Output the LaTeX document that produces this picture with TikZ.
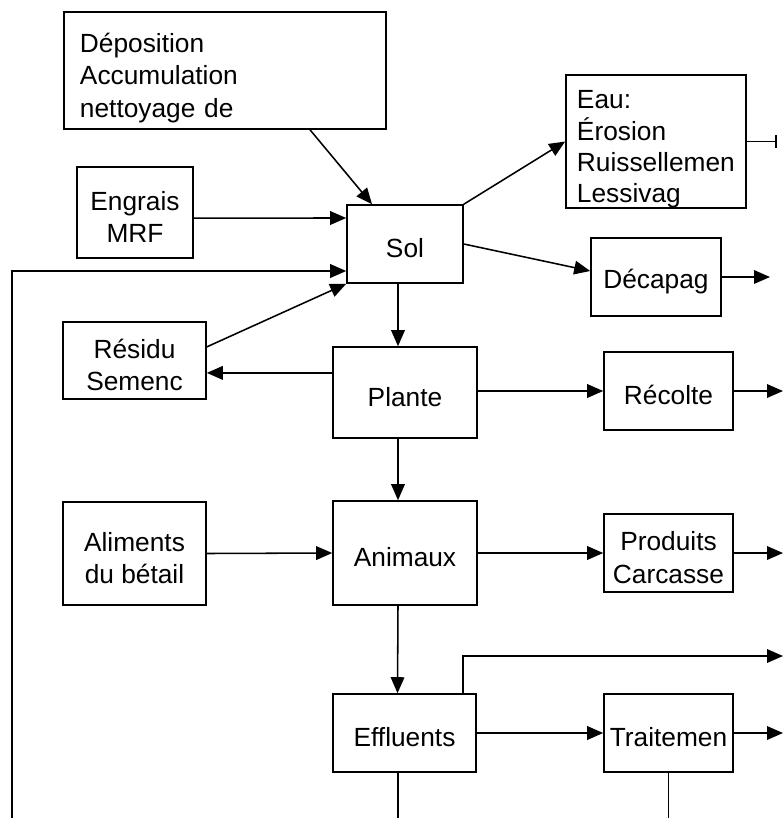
\documentclass[tikz,border=0pt]{standalone}
\usepackage{fontspec}
\setmainfont{Liberation Sans}
\usepackage{tikz}
\usetikzlibrary{arrows.meta, calc}

\newcommand{\haut}{\rule{0pt}{0.7cm}}
\newcommand{\plushaut}{\rule{0pt}{0.85cm}}

\tikzset{
  boite/.style={draw, line width=1.1pt, inner sep=2pt, align=center,
    font=\fontsize{18.7pt}{23pt}\selectfont},
  fleche/.style={line width=1.1pt, -{Triangle[length=0.4cm, width=0.34cm]}},
  trait/.style={line width=1.1pt}
}

\begin{document}
\begin{tikzpicture}[x=0.025cm, y=-0.025cm]
\useasboundingbox (0,0) rectangle (783,818);

\node[boite, text width=7.25cm, align=left, inner xsep=0.4cm, inner ysep=0pt, minimum height=2.925cm] (depot) at (225,70.5) {\plushaut Déposition\\Accumulation\\nettoyage de};
\node[boite, minimum width=2.9cm, minimum height=2.275cm] (engrais) at (135,212.5) {\haut Engrais\\MRF};
\node[boite, minimum width=2.9cm, minimum height=1.95cm] (sol) at (405,244) {\haut Sol};
\node[boite, text width=3.95cm, align=left, inner xsep=0.275cm, inner ysep=0pt, minimum height=3.225cm,
  font=\fontsize{18.7pt}{22.2pt}\selectfont] (eau) at (656,141.5) {\plushaut Eau:\\Érosion\\Ruissellemen\\Lessivag};
\node[boite, minimum width=3.25cm, minimum height=1.95cm] (decap) at (656,277) {\haut Décapag};
\node[boite, minimum width=3.575cm, minimum height=1.925cm] (residu) at (134.5,360.5) {\haut Résidu\\Semenc};
\node[boite, minimum width=3.6cm, minimum height=2.275cm] (plante) at (405,392.5) {\haut Plante};
\node[boite, minimum width=3.225cm, minimum height=1.95cm] (recolte) at (668.5,391) {\haut Récolte};
\node[boite, minimum width=3.575cm, minimum height=2.575cm] (aliments) at (134.5,553.5) {\haut Aliments\\du bétail};
\node[boite, minimum width=3.6cm, minimum height=2.6cm] (animaux) at (405,553) {\haut Animaux};
\node[boite, minimum width=3.225cm, minimum height=1.95cm] (produits) at (668.5,553) {\haut Produits\\Carcasse};
\node[boite, minimum width=3.575cm, minimum height=1.95cm] (effluents) at (404.5,733) {\haut Effluents};
\node[boite, minimum width=3.225cm, minimum height=1.95cm] (traitement) at (668.5,733) {\haut Traitemen};

% sorties vers le bord
\coordinate (bas) at (12,818);
\coordinate (sEau) at (777,141.5);
\coordinate (sDecap) at (770,277);
\coordinate (sRec) at (783,391);
\coordinate (sProd) at (783,553);
\coordinate (sEff) at (783,656);
\coordinate (sTrait) at (783,733);
\coordinate (bEff) at (398,818);
\coordinate (bTrait) at (668.5,818);

\draw[fleche] ([xshift=2.125cm]depot.south) -- ([xshift=-0.825cm]sol.north);
\draw[fleche] ([yshift=-0.14cm]engrais.east) -- ([yshift=0.65cm]sol.west);
\draw[fleche] (bas) |- ([yshift=-0.675cm]sol.west);
\draw[fleche] ([yshift=0.34cm]residu.east) -- (sol.south west);
\draw[fleche] (sol.north east) -- (eau.west);
\draw[fleche] (sol.east) -- ([yshift=0.15cm]decap.west);
\draw[trait, -{Bar[width=0.32cm, line width=1.4pt]}] (eau.east) -- (sEau);
\draw[fleche] (decap.east) -- (sDecap);

\draw[fleche] ([xshift=-0.175cm]sol.south) -- ([xshift=-0.175cm]plante.north);
\draw[fleche] ([yshift=0.49cm]plante.west) -- ([yshift=0.49cm]plante.west -| residu.east);
\draw[fleche] (recolte.west -| plante.east) -- (recolte.west);
\draw[fleche] (recolte.east) -- (sRec);

\draw[fleche] ([xshift=-0.175cm]plante.south) -- ([xshift=-0.175cm]animaux.north);
\draw[fleche] (aliments.east) -- (animaux.west);
\draw[fleche] (animaux.east) -- (produits.west);
\draw[fleche] (produits.east) -- (sProd);

\draw[fleche] ([xshift=-0.175cm]animaux.south) -- ([xshift=-0.175cm]effluents.north);
\draw[fleche] ([xshift=1.46cm]effluents.north) |- (sEff);
\draw[fleche] (effluents.east) -- (traitement.west);
\draw[fleche] (traitement.east) -- (sTrait);
\draw[trait] (bEff |- effluents.south) -- (bEff);
\draw[trait] (traitement.south) -- (bTrait);

\end{tikzpicture}
\end{document}
